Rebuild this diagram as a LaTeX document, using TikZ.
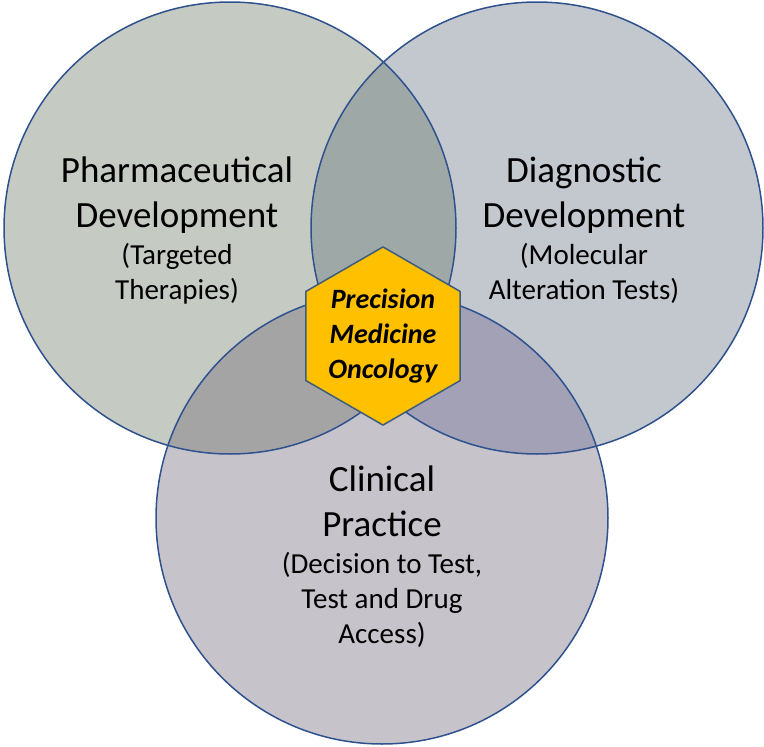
\documentclass[tikz,border=0pt]{standalone}
\usepackage{fontspec}
\setmainfont{Carlito}
\usetikzlibrary{shapes.geometric,positioning}
\definecolor{pharmafill}{RGB}{197,202,195}
\definecolor{diagfill}{RGB}{195,199,206}
\definecolor{clinfill}{RGB}{199,195,202}
\definecolor{pdfill}{RGB}{158,168,166}
\definecolor{pcfill}{RGB}{165,164,165}
\definecolor{dcfill}{RGB}{162,161,181}
\definecolor{ringline}{RGB}{47,82,143}
\definecolor{hexline}{RGB}{62,92,126}
\definecolor{hexfill}{RGB}{255,192,0}
\tikzset{
 title/.style={align=center, inner sep=0pt, font=\fontsize{37}{45}\selectfont},
 subtitle/.style={align=center, inner sep=0pt, font=\fontsize{29}{35}\selectfont},
 ring/.style={draw=ringline, line width=1.5pt},
}
\begin{document}
\begin{tikzpicture}[x=1pt, y=-1pt, line join=round, line cap=round]
 \def\rad{226pt}
 \useasboundingbox (0,0) rectangle (764,747);
 \coordinate (pharma) at (230,228);
 \coordinate (diag) at (537,228);
 \coordinate (clin) at (382,518);
 % the three circles
 \fill[pharmafill] (pharma) circle (\rad);
 \fill[diagfill] (diag) circle (\rad);
 \fill[clinfill] (clin) circle (\rad);
 % pairwise overlaps
 \begin{scope}
  \clip (pharma) circle (\rad);
  \fill[pdfill] (diag) circle (\rad);
  \fill[pcfill] (clin) circle (\rad);
 \end{scope}
 \begin{scope}
  \clip (diag) circle (\rad);
  \fill[dcfill] (clin) circle (\rad);
 \end{scope}
 \draw[ring] (pharma) circle (\rad);
 \draw[ring] (diag) circle (\rad);
 \draw[ring] (clin) circle (\rad);
 % labels
 \node[title] (pharmaT) at (177,195) {Pharmaceutical\\Development};
 \node[subtitle] (pharmaS) at (177,274) {(Targeted\\Therapies)};
 \node[title] (diagT) at (584,195) {Diagnostic\\Development};
 \node[subtitle] (diagS) at (584,273) {(Molecular\\Alteration Tests)};
 \node[title] (clinT) at (382,501) {Clinical\\Practice};
 \node[subtitle] (clinS) at (382,600) {(Decision to Test,\\Test and Drug\\Access)};
 % centre
 \node[regular polygon, regular polygon sides=6, shape border rotate=30,
  minimum size=172pt, inner sep=0pt, fill=hexfill, draw=hexline, line width=1.5pt,
  align=center, font=\fontsize{28}{35}\selectfont\bfseries\itshape] (pmo) at (383,336)
  {Precision\\Medicine\\Oncology};
\end{tikzpicture}
\end{document}
